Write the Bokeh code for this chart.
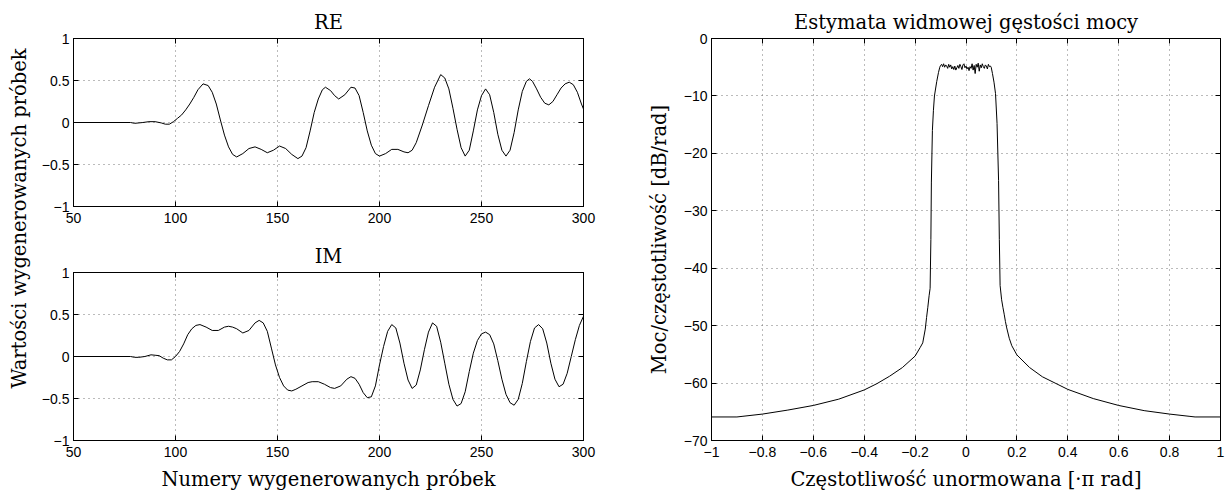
import numpy as np
from bokeh.plotting import figure
from bokeh.layouts import row, column
from bokeh.models import Range1d, FixedTicker, LinearAxis, Label, CustomJSTickFormatter
from bokeh.embed import file_html
from bokeh.resources import INLINE

SERIF = "DejaVu Serif"
SANS = "Liberation Sans"
SERIF_SIZE = "19.5px"

# ---------------- data ----------------
sample_ticks = [50, 100, 150, 200, 250, 300]
value_ticks = [-1, -0.5, 0, 0.5, 1]
freq_ticks = [-1, -0.8, -0.6, -0.4, -0.2, 0, 0.2, 0.4, 0.6, 0.8, 1]
db_ticks = [-70, -60, -50, -40, -30, -20, -10, 0]

re_points = [
    (50, 0.0), (78, 0.0), (80, -0.01), (84, 0.0), (87, 0.01), (90, 0.01), (93, -0.005),
    (95, -0.02), (97, -0.02), (99, 0.01), (101, 0.05), (103, 0.09), (105, 0.15),
    (107, 0.22), (109, 0.30), (111, 0.39), (113.5, 0.46), (116, 0.44), (118, 0.36),
    (120, 0.22), (122, 0.03), (124, -0.15), (126, -0.29), (128, -0.38), (130, -0.41),
    (133, -0.37), (136, -0.31), (139, -0.29), (142, -0.32), (145, -0.36), (148, -0.33),
    (151, -0.28), (154, -0.31), (157, -0.38), (160, -0.43), (162, -0.40), (164, -0.30),
    (166, -0.10), (168, 0.12), (170, 0.28), (172, 0.39), (173.5, 0.42), (176, 0.38),
    (178, 0.32), (180, 0.28), (183, 0.33), (186, 0.42), (188, 0.41), (190, 0.32),
    (192, 0.12), (194, -0.10), (196, -0.27), (198, -0.37), (200, -0.40), (203, -0.37),
    (206, -0.32), (209, -0.32), (212, -0.35), (214, -0.36), (216, -0.33), (218, -0.24),
    (221, -0.03), (224, 0.20), (227, 0.42), (230, 0.57), (232, 0.53), (234, 0.40),
    (236, 0.17), (238, -0.08), (240, -0.30), (242, -0.40), (244, -0.33), (246, -0.10),
    (248, 0.15), (250, 0.32), (252, 0.40), (254, 0.33), (256, 0.12), (258, -0.14),
    (260, -0.33), (262, -0.40), (264, -0.33), (266, -0.12), (268, 0.15), (270, 0.37),
    (272, 0.49), (273.5, 0.52), (275, 0.49), (277, 0.40), (279, 0.30), (281, 0.23),
    (283, 0.21), (285, 0.25), (287, 0.33), (289, 0.41), (291, 0.46), (293, 0.48),
    (295, 0.45), (297, 0.36), (299, 0.22), (300, 0.16),
]

im_points = [
    (50, 0.0), (78, 0.0), (80, -0.01), (82, -0.01), (85, 0.0), (88, 0.02), (90, 0.015),
    (92, 0.01), (94, -0.02), (96, -0.04), (98, -0.04), (100, 0.0), (102, 0.06),
    (104, 0.15), (106, 0.26), (108, 0.33), (110, 0.37), (112, 0.38), (115, 0.35),
    (118, 0.31), (121, 0.31), (124, 0.35), (126, 0.36), (128, 0.35), (130, 0.33),
    (133, 0.28), (136, 0.31), (139, 0.40), (141, 0.43), (143, 0.40), (145, 0.30),
    (147, 0.10), (149, -0.10), (151, -0.25), (153, -0.35), (155, -0.40), (157, -0.41),
    (159, -0.39), (162, -0.35), (165, -0.31), (167, -0.30), (170, -0.30), (173, -0.33),
    (176, -0.37), (178, -0.38), (181, -0.35), (184, -0.27), (186, -0.24), (188, -0.26),
    (190, -0.33), (192, -0.43), (194, -0.49), (196, -0.48), (198, -0.35), (200, -0.10),
    (202, 0.12), (204, 0.30), (206, 0.38), (208, 0.34), (210, 0.16), (212, -0.08),
    (214, -0.28), (216, -0.38), (218, -0.34), (220, -0.16), (222, 0.08), (224, 0.29),
    (226, 0.40), (228, 0.36), (230, 0.17), (232, -0.08), (234, -0.33), (236, -0.51),
    (238, -0.59), (240, -0.56), (242, -0.42), (244, -0.18), (246, 0.04), (248, 0.19),
    (250, 0.27), (252, 0.29), (254, 0.26), (256, 0.15), (258, -0.05), (260, -0.27),
    (262, -0.45), (264, -0.55), (266, -0.58), (268, -0.51), (270, -0.32), (272, -0.06),
    (274, 0.18), (276, 0.34), (278, 0.38), (280, 0.33), (282, 0.16), (284, -0.08),
    (286, -0.27), (288, -0.36), (290, -0.33), (292, -0.20), (294, 0.0), (296, 0.20),
    (298, 0.37), (300, 0.48),
]

psd_left = [
    (-1.0, -65.9), (-0.9, -65.9), (-0.88, -65.8), (-0.8, -65.4), (-0.7, -64.7),
    (-0.6, -63.9), (-0.5, -62.8), (-0.4, -61.2), (-0.35, -60.1), (-0.3, -58.8),
    (-0.25, -57.3), (-0.2, -55.3), (-0.18, -53.8), (-0.17, -53.0), (-0.165, -51.8),
    (-0.16, -50.6), (-0.155, -48.6), (-0.15, -46.8), (-0.145, -44.8), (-0.141, -43.5),
    (-0.138, -35.0), (-0.136, -25.0), (-0.132, -16.0), (-0.128, -12.5), (-0.124, -10.0),
    (-0.115, -7.5), (-0.108, -5.9), (-0.103, -5.0),
]
psd_plateau = [
    -4.7, -4.5, -4.9, -4.4, -5.0, -4.6, -4.8, -5.2, -4.5, -5.0,
    -4.6, -5.3, -4.9, -5.4, -4.8, -5.5, -5.1, -4.7, -5.2, -4.5,
    -4.9, -5.4, -4.6, -4.4, -5.1, -4.8, -5.3, -5.0, -5.6, -4.9,
    -5.2, -4.4, -5.5, -4.7, -6.1, -4.5, -5.0, -4.3, -5.7, -4.6,
    -5.1, -4.4, -4.9, -5.2, -4.6, -4.8, -5.3, -4.5, -4.9, -4.8,
]
psd_plateau_f = np.linspace(-0.1, 0.096, len(psd_plateau))
psd_right = [
    (0.099, -5.0), (0.104, -6.1), (0.110, -7.6), (0.116, -9.6), (0.122, -14.8),
    (0.128, -24.7), (0.131, -35.0), (0.134, -43.0), (0.14, -45.5), (0.145, -46.8),
    (0.15, -48.0), (0.155, -49.3), (0.16, -50.4), (0.17, -52.2), (0.18, -53.5),
    (0.2, -55.1), (0.25, -57.3), (0.3, -58.9), (0.35, -60.0), (0.4, -61.1),
    (0.5, -62.7), (0.6, -63.9), (0.7, -64.8), (0.8, -65.4), (0.88, -65.8),
    (0.9, -65.9), (1.0, -65.9),
]

re_n = [p[0] for p in re_points]
re_v = [p[1] for p in re_points]
im_n = [p[0] for p in im_points]
im_v = [p[1] for p in im_points]
psd_f = [p[0] for p in psd_left] + list(psd_plateau_f) + [p[0] for p in psd_right]
psd_db = [p[1] for p in psd_left] + list(psd_plateau) + [p[1] for p in psd_right]

# ---------------- styling helpers ----------------
FMT_CODE = "var v = Math.round(tick*1000)/1000; return v.toString().replace('-', '\u2212');"


def make_fig(width, height, xr, yr, xticks, yticks, mb, title, xlabel=None, ylabel=None):
    p = figure(width=width, height=height, x_range=Range1d(*xr), y_range=Range1d(*yr),
               toolbar_location=None, output_backend="svg", title=title,
               min_border_left=mb[0], min_border_right=mb[1],
               min_border_top=mb[2], min_border_bottom=mb[3])
    p.outline_line_color = "black"
    p.outline_line_width = 1
    p.background_fill_color = "white"
    p.border_fill_color = "white"
    xa = p.xaxis[0]
    ya = p.yaxis[0]
    for ax, ticks in ((xa, xticks), (ya, yticks)):
        ax.ticker = FixedTicker(ticks=ticks)
        ax.formatter = CustomJSTickFormatter(code=FMT_CODE)
        ax.major_tick_in = 5
        ax.major_tick_out = 0
        ax.minor_tick_in = 0
        ax.minor_tick_out = 0
        ax.axis_line_color = "black"
        ax.major_label_text_font = SANS
        ax.major_label_text_font_size = "14px"
        ax.major_label_text_color = "black"
        ax.axis_label_text_font = SERIF
        ax.axis_label_text_font_size = SERIF_SIZE
        ax.axis_label_text_font_style = "normal"
        ax.axis_label_text_color = "black"
    xa.major_label_standoff = 6
    ya.major_label_standoff = 4
    if xlabel:
        xa.axis_label = xlabel
        xa.axis_label_standoff = 8
    if ylabel:
        ya.axis_label = ylabel
        ya.axis_label_standoff = 10
    p.xgrid.ticker = FixedTicker(ticks=xticks)
    p.ygrid.ticker = FixedTicker(ticks=yticks)
    for g in (p.xgrid, p.ygrid):
        g.grid_line_color = "#777777"
        g.grid_line_dash = "1 4"
        g.grid_line_width = 1
    for loc, ticks in (("above", xticks), ("right", yticks)):
        a = LinearAxis(ticker=FixedTicker(ticks=ticks),
                       formatter=CustomJSTickFormatter(code="return '';"),
                       major_label_text_font_size="0px", major_label_standoff=0,
                       major_tick_in=5, major_tick_out=0, minor_tick_in=0, minor_tick_out=0,
                       axis_line_color="black")
        p.add_layout(a, loc)
    p.title.text_font = SERIF
    p.title.text_font_size = SERIF_SIZE
    p.title.text_font_style = "normal"
    p.title.align = "center"
    p.title.text_color = "black"
    return p


# ---------------- left column ----------------
lab = figure(width=34, height=498, x_range=Range1d(0, 34), y_range=Range1d(0, 498),
             toolbar_location=None, output_backend="svg", min_border=0,
             x_axis_location=None, y_axis_location=None)
lab.grid.visible = False
lab.outline_line_color = None
lab.border_fill_color = "white"
lab.add_layout(Label(x=19, y=275, text="Wartości wygenerowanych próbek", angle=np.pi / 2,
                     text_align="center", text_baseline="middle", text_font=SERIF,
                     text_font_size=SERIF_SIZE, text_color="black"))

p1 = make_fig(606, 236, (50, 300), (-1, 1), sample_ticks, value_ticks, (39, 57, 38, 30), "RE")
p1.line(re_n, re_v, line_color="black", line_width=1)

p2 = make_fig(606, 262, (50, 300), (-1, 1), sample_ticks, value_ticks, (39, 57, 36, 58), "IM",
              xlabel="Numery wygenerowanych próbek")
p2.line(im_n, im_v, line_color="black", line_width=1)

# ---------------- right plot ----------------
p3 = make_fig(586, 498, (-1, 1), (-70, 0), freq_ticks, db_ticks, (71, 6, 38, 58),
              "Estymata widmowej gęstości mocy",
              xlabel="Częstotliwość unormowana [·π rad]",
              ylabel="Moc/częstotliwość [dB/rad]")
p3.line(psd_f, psd_db, line_color="black", line_width=1)

layout = row(lab, column(p1, p2), p3)
open("out.html", "w").write(file_html(layout, INLINE))
